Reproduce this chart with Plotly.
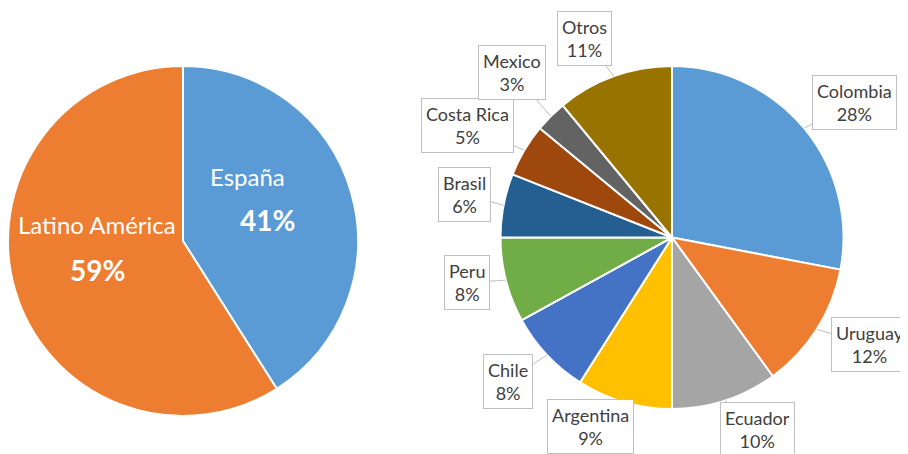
import math
import plotly.graph_objects as go

# ---- data ----
left_labels = ["España", "Latino América"]
left_values = [41, 59]
left_colors = ["#5B9BD5", "#ED7D31"]

right_labels = ["Colombia", "Uruguay", "Ecuador", "Argentina", "Chile",
                "Peru", "Brasil", "Costa Rica", "Mexico", "Otros"]
right_values = [28, 12, 10, 9, 8, 8, 6, 5, 3, 11]
right_colors = ["#5B9BD5", "#ED7D31", "#A5A5A5", "#FFC000", "#4472C4",
                "#70AD47", "#255E91", "#9E480E", "#636363", "#997300"]

# ---- layout geometry (window pixels; page body has an 8px margin) ----
OFF = 8
W, H = 908 - OFF, 454 - OFF
L_CX, L_CY, L_R = 183 - OFF, 241 - OFF, 175
R_CX, R_CY, R_R = 672 - OFF, 237.5 - OFF, 171.5
# label placement per slice: distance from centre and small angle tweak
lab_dist = [227, 225, 210, 206, 218, 210, 212, 233, 230, 217]
lab_dang = [3, -4, -6, 7, 2, 2, 1, -2, 1, -4]


def dom(cx, cy, r):
    return dict(x=[(cx - r) / W, (cx + r) / W],
                y=[1 - (cy + r) / H, 1 - (cy - r) / H])


fig = go.Figure()
fig.add_trace(go.Pie(
    labels=left_labels, values=left_values, sort=False, direction="clockwise",
    marker=dict(colors=left_colors, line=dict(color="white", width=2)),
    textinfo="none", hoverinfo="label+percent", domain=dom(L_CX, L_CY, L_R),
    showlegend=False))
fig.add_trace(go.Pie(
    labels=right_labels, values=right_values, sort=False, direction="clockwise",
    marker=dict(colors=right_colors, line=dict(color="white", width=2)),
    textinfo="none", hoverinfo="label+percent", domain=dom(R_CX, R_CY, R_R),
    showlegend=False))

annotations = []
# left pie labels (inside, white)
tot_l = sum(left_values)
left_pos = [(247, 176, 267, 220), (97, 225, 97, 270)]
for i, (lab, v) in enumerate(zip(left_labels, left_values)):
    x1, y1, x2, y2 = [p - OFF for p in left_pos[i]]
    annotations.append(dict(x=x1 / W, y=1 - y1 / H, xref="paper", yref="paper",
                            xanchor="center", yanchor="middle",
                            text=lab, showarrow=False,
                            font=dict(family="Lato", size=24, color="white")))
    annotations.append(dict(x=x2 / W, y=1 - y2 / H, xref="paper", yref="paper",
                            xanchor="center", yanchor="middle",
                            text="<b>%d%%</b>" % round(100 * v / tot_l), showarrow=False,
                            font=dict(family="Lato", size=28, color="white")))

# right pie callout labels
tot_r = sum(right_values)
cum = 0
for i, (lab, v) in enumerate(zip(right_labels, right_values)):
    mid = (cum + v / 2) / tot_r * 360
    cum += v
    th = math.radians(mid)
    thl = math.radians(mid + lab_dang[i])
    axp = R_CX + R_R * math.sin(th)
    ayp = R_CY - R_R * math.cos(th)
    lxp = R_CX + lab_dist[i] * math.sin(thl)
    lyp = R_CY - lab_dist[i] * math.cos(thl)
    annotations.append(dict(
        x=axp / W, y=1 - ayp / H, xref="paper", yref="paper",
        ax=lxp - axp, ay=lyp - ayp, axref="pixel", ayref="pixel",
        text="%s<br>%d%%" % (lab, round(100 * v / tot_r)),
        showarrow=True, arrowhead=0, arrowwidth=1, arrowcolor="#BFBFBF",
        bordercolor="#BFBFBF", borderwidth=1, borderpad=4, bgcolor="white",
        align="center",
        font=dict(family="Lato", size=18, color="#404040")))

fig.update_layout(width=W, height=H, margin=dict(l=0, r=0, t=0, b=0),
                  paper_bgcolor="white", plot_bgcolor="white",
                  annotations=annotations)
fig.write_html("out.html")
